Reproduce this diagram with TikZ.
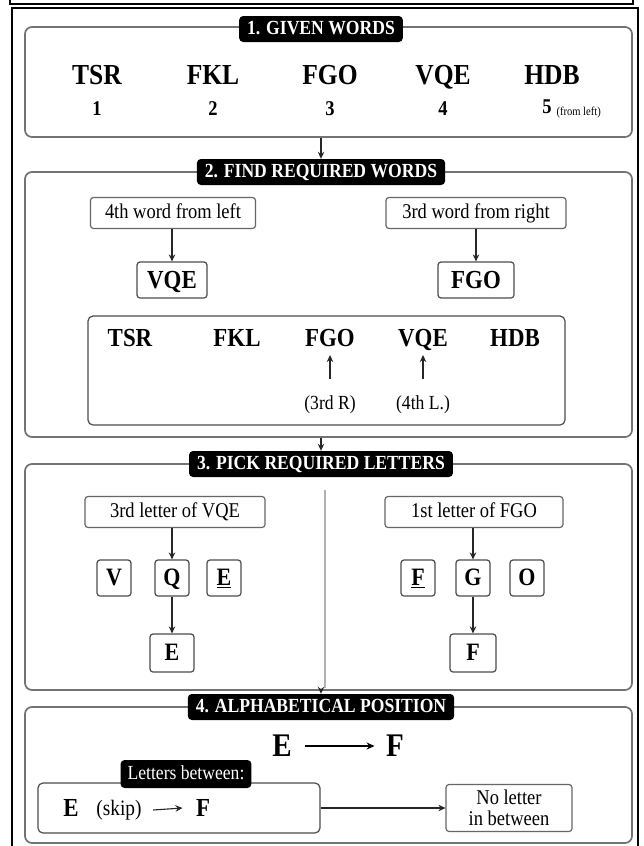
\documentclass[tikz,border=0pt]{standalone}
\usepackage{fontspec}
\setmainfont{Liberation Serif}[FakeStretch=0.88]
\usetikzlibrary{arrows.meta}
\newcommand{\fsz}[1]{\fontsize{#1}{#1}\selectfont}
\begin{document}
\begin{tikzpicture}[x=1pt,y=-1pt,
  panel/.style={draw=black!55, line width=1.7pt, rounded corners=7pt, fill=white},
  ttl/.style={fill=black, text=white, rounded corners=4pt, font=\bfseries\fsz{20}, inner xsep=8pt, inner ysep=4pt, text height=14pt, text depth=4pt},
  lbl/.style={draw=black!60, line width=1.2pt, rounded corners=3pt, fill=white, font=\fsz{21}, minimum height=31pt, text height=14pt, text depth=4pt},
  wbox/.style={draw=black!70, line width=1.2pt, rounded corners=3pt, fill=white, font=\bfseries\fsz{26}, text height=18pt, text depth=2pt},
  lbox/.style={draw=black!70, line width=1.2pt, rounded corners=3pt, fill=white, font=\bfseries\fsz{25}, minimum width=34pt, minimum height=36pt, text height=17pt, text depth=2pt},
  word/.style={font=\bfseries\fsz{29}, text height=19pt, text depth=2pt},
  iword/.style={font=\bfseries\fsz{26}, text height=17pt, text depth=2pt},
  num/.style={font=\bfseries\fsz{21}, text height=14pt, text depth=1pt},
  note/.style={font=\fsz{20}, text height=14pt, text depth=4pt},
  arr/.style={-{Stealth[length=7pt,width=6.5pt]}, line width=1.1pt, black!85},
]
\useasboundingbox (0,0) rectangle (643,846);
\fill[white] (0,0) rectangle (643,846);
\begin{scope}
\clip (0,0) rectangle (643,846);
\draw[line width=2.5pt] (10,-10) rectangle (633,4);
\draw[line width=2.5pt] (12,8) rectangle (638,870);
\end{scope}

% panels
\node[panel, minimum width=607pt, minimum height=110pt] (p1) at (328.5,82) {};
\node[panel, minimum width=607pt, minimum height=265pt] (p2) at (328.5,304.5) {};
\node[panel, minimum width=607pt, minimum height=226pt] (p3) at (328.5,577) {};
\node[panel, minimum width=607pt, minimum height=136pt] (p4) at (328.5,775) {};

% titles
\node[ttl] (t1) at (321,29) {1. GIVEN WORDS};
\node[ttl] (t2) at (321,172) {2. FIND REQUIRED WORDS};
\node[ttl] (t3) at (321,464) {3. PICK REQUIRED LETTERS};
\node[ttl] (t4) at (321,707) {4. ALPHABETICAL POSITION};

\draw[arr] (t2.north |- p1.south) -- (t2.north);
\draw[arr] (t3.north |- p2.south) -- (t3.north);
\draw[arr] (t4.north |- p3.south) -- (t4.north);

% section 1
\node[word] (w1) at (97,76) {TSR};
\node[word] (w2) at (213,76) {FKL};
\node[word] (w3) at (330,76) {FGO};
\node[word] (w4) at (443,76) {VQE};
\node[word] (w5) at (552,76) {HDB};
\node[num] (n1) at (97,109) {1};
\node[num] (n2) at (213,109) {2};
\node[num] (n3) at (330,109) {3};
\node[num] (n4) at (443,109) {4};
\node[num] (n5) at (547,107) {5};
\node[font=\fsz{12}, anchor=west] (fl) at (553,113) {(from left)};

% section 2
\node[lbl, minimum width=165pt] (q1) at (173,213) {4th word from left};
\node[lbl, minimum width=180pt] (q2) at (476,213) {3rd word from right};
\node[wbox, minimum width=70pt, minimum height=36pt] (a1) at (172,280) {VQE};
\node[wbox, minimum width=76pt, minimum height=36pt] (a2) at (476,280) {FGO};
\draw[arr] (a1.north |- q1.south) -- (a1.north);
\draw[arr] (a2.north |- q2.south) -- (a2.north);

\node[draw=black!70, line width=1.2pt, rounded corners=5pt, minimum width=477pt, minimum height=109pt] (ib) at (326.5,370.5) {};
\node[iword] (iw1) at (130,339) {TSR};
\node[iword] (iw2) at (237,339) {FKL};
\node[iword] (iw3) at (330,339) {FGO};
\node[iword] (iw4) at (423,339) {VQE};
\node[iword] (iw5) at (515,339) {HDB};
\coordinate (c3) at (330,379);
\coordinate (c4) at (423,379);
\draw[arr] (c3) -- ([yshift=-3pt]iw3.south);
\draw[arr] (c4) -- ([yshift=-3pt]iw4.south);
\node[note] (l3) at (330,404) {(3rd R)};
\node[note] (l4) at (423,404) {(4th L.)};

% section 3
\coordinate (d1) at (325,490);
\coordinate (d2) at (325,688);
\draw[black!30, line width=1.2pt] (d1) -- (d2);
\node[lbl, minimum width=180pt] (r1) at (175,512) {3rd letter of VQE};
\node[lbl, minimum width=178pt] (r2) at (474,512) {1st letter of FGO};
\node[lbox] (lv) at (114,578) {V};
\node[lbox] (lq) at (172,578) {Q};
\node[lbox] (le) at (224,578) {\underline{E}};
\node[lbox] (lf) at (418,578) {\underline{F}};
\node[lbox] (lg) at (473,578) {G};
\node[lbox] (lo) at (527,578) {O};
\node[lbox, minimum width=44pt, minimum height=38pt] (re) at (172,653) {E};
\node[lbox, minimum width=46pt, minimum height=38pt] (rf) at (473,653) {F};
\draw[arr] (lq.north |- r1.south) -- (lq.north);
\draw[arr] (lq.south) -- (re.north);
\draw[arr] (lg.north |- r2.south) -- (lg.north);
\draw[arr] (lg.south) -- (rf.north);

% section 4
\node[font=\bfseries\fsz{33}, text height=22pt, text depth=1pt] (e1) at (282,746) {E};
\node[font=\bfseries\fsz{33}, text height=22pt, text depth=1pt] (f1) at (395,746) {F};
\draw[-{Stealth[length=8pt,width=7pt]}, line width=1.5pt] ([xshift=10pt]e1.east) -- ([xshift=-8pt]f1.west);

\node[draw=black!70, line width=1.2pt, rounded corners=5pt, minimum width=282pt, minimum height=50pt, fill=white] (lb) at (179,808) {};
\node[font=\bfseries\fsz{26}, text height=18pt, text depth=1pt] (e2) at (71,808) {E};
\node[font=\fsz{22}, text height=15pt, text depth=5pt] (sk) at (119,810) {(skip)};
\node[font=\bfseries\fsz{26}, text height=18pt, text depth=1pt] (f2) at (203,808) {F};
\draw[arr] ([xshift=8pt]sk.east) -- ([xshift=-10pt]f2.west);
\node[ttl, font=\fsz{20}, inner xsep=7pt, inner ysep=5pt] (lbt) at (186,774) {Letters between:};
\node[lbl, align=center, minimum width=126pt, minimum height=47pt, font=\fsz{21}, text height=, text depth=, inner sep=3pt] (nl) at (509,808) {\baselineskip=23pt No letter\\in between};
\draw[arr] (lb.east) -- (nl.west);
\end{tikzpicture}
\end{document}
